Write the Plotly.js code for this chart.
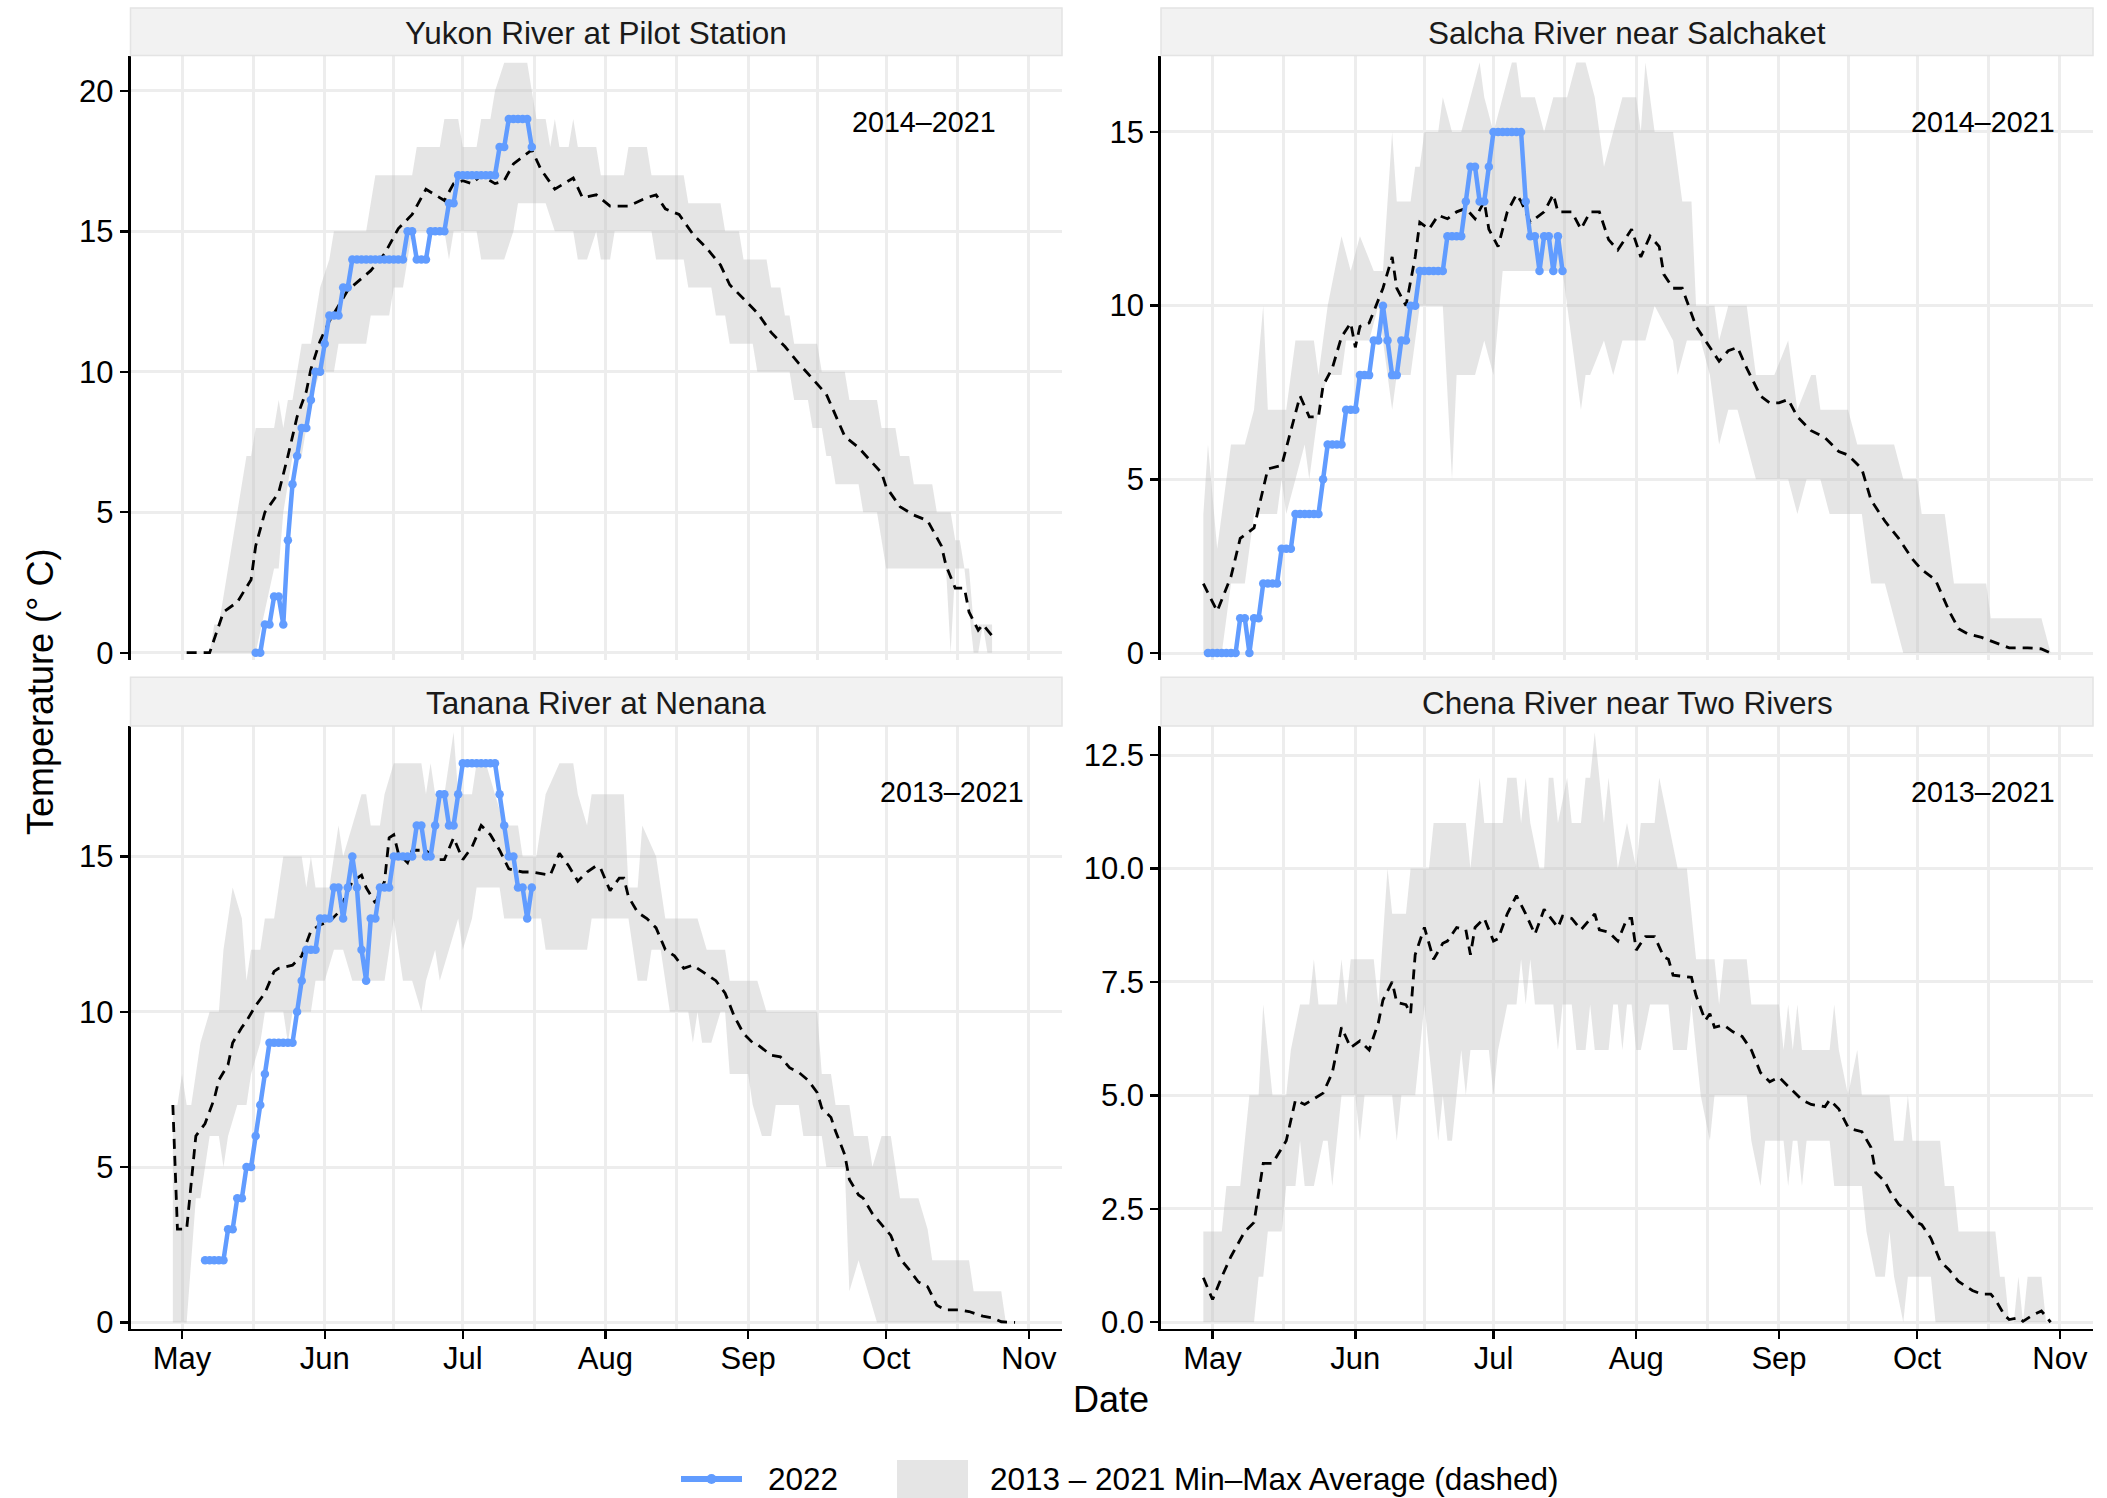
<!DOCTYPE html>
<html>
<head>
<meta charset="utf-8">
<script src="https://cdn.plot.ly/plotly-3.0.1.min.js"></script>
<style>
html,body{margin:0;padding:0;background:#fff;}
#chart{width:2107px;height:1498px;}
</style>
</head>
<body>
<div id="chart"></div>
<script>
// ---------------- DATA (day offsets from May 1; values in deg C) ----------------
const panelTitles = ["Yukon River at Pilot Station", "Salcha River near Salchaket", "Tanana River at Nenana", "Chena River near Two Rivers"];
const periodLabels = ["2014\u20132021", "2014\u20132021", "2013\u20132021", "2013\u20132021"];
const monthTickLabels = ["May", "Jun", "Jul", "Aug", "Sep", "Oct", "Nov"];
const monthTickDates = ["2022-05-01", "2022-06-01", "2022-07-01", "2022-08-01", "2022-09-01", "2022-10-01", "2022-11-01"];

// Yukon River at Pilot Station
const yukonMean = [[1,0],[6,0],[9,1.45],[12,1.8],[15,2.6],[16,3.8],[18,5.0],[21,5.7],[23,7.0],[25,8.4],[27,9.3],[28,10.1],[30,11.1],[32,11.8],[36,12.9],[41,13.6],[44,14.2],[47,15.1],[50,15.6],[52,16.2],[53,16.5],[57,16.1],[59,16.7],[61,16.8],[63,16.7],[65,17.0],[68,16.7],[70,16.8],[72,17.4],[76,17.9],[78,17.2],[81,16.5],[85,16.9],[87,16.2],[90,16.3],[93,15.9],[97,15.9],[101,16.2],[103,16.3],[105,15.8],[108,15.6],[111,14.9],[114,14.4],[117,13.8],[119,13.1],[122,12.6],[125,12.1],[128,11.4],[131,10.9],[134,10.3],[137,9.75],[140,9.2],[144,7.7],[147,7.3],[152,6.4],[153,5.9],[156,5.2],[159,4.9],[162,4.7],[165,3.8],[166,3.1],[168,2.3],[170,2.3],[171,1.45],[173,0.8],[174,1.0],[176,0.6]];
const yukonMax = [[1,0],[6,0],[7,1],[8,1],[14,7],[15,7],[16,8],[20,8],[21,9],[22,8],[23,9],[24,9],[25,10],[26,11],[28,11],[29,12],[30,13],[32,14],[33,15],[40,15],[41,16],[42,17],[50,17],[51,18],[56,18],[57,19],[60,19],[61,18],[64,18],[65,19],[67,19],[68,20],[70,21],[75,21],[76,20],[77,19],[79,19],[80,18],[81,19],[82,18],[84,18],[85,19],[86,18],[90,18],[91,17],[96,17],[97,18],[101,18],[102,17],[109,17],[110,16],[117,16],[118,15],[121,15],[122,14],[127,14],[128,13],[130,13],[131,12],[132,12],[133,11],[138,11],[139,10],[144,10],[145,9],[151,9],[152,8],[155,8],[156,7],[158,7],[159,6],[163,6],[164,5],[167,5],[168,4],[169,4],[170,3],[171,3],[172,1],[176,1]];
const yukonMin = [[1,0],[16,0],[20,3],[21,3],[22,5],[24,7],[26,7],[28,9],[30,10],[33,10],[34,11],[40,11],[41,12],[45,12],[46,13],[48,13],[49,14],[50,15],[57,15],[58,14],[59,15],[64,15],[65,14],[70,14],[72,15],[73,16],[79,16],[81,15],[85,15],[86,14],[88,14],[90,15],[91,14],[93,14],[94,15],[102,15],[103,14],[109,14],[110,13],[115,13],[116,12],[118,12],[119,11],[124,11],[125,10],[132,10],[133,9],[136,9],[137,8],[139,8],[140,7],[141,7],[142,6],[147,6],[148,5],[151,5],[152,4],[153,3],[166,3],[167,0],[168,3],[170,3],[172,0],[173,0],[174,1],[175,0],[176,0]];
const yukon2022Start = 16;
const yukon2022 = [0,0,1,1,2,2,1,4,6,7,8,8,9,10,10,11,12,12,12,13,13,14,14,14,14,14,14,14,14,14,14,14,14,15,15,14,14,14,15,15,15,15,16,16,17,17,17,17,17,17,17,17,17,18,18,19,19,19,19,19,18];

// Salcha River near Salchaket
const salchaMean = [[-2,2.0],[1,1.2],[4,2.2],[6,3.3],[9,3.6],[11,4.75],[12,5.3],[15,5.4],[16,5.9],[18,6.9],[19,7.4],[21,6.8],[23,6.8],[24,7.7],[26,8.2],[28,9.1],[30,9.5],[31,8.8],[32,9.4],[34,9.5],[37,10.5],[39,11.4],[40,10.5],[42,10.0],[44,11.4],[45,12.4],[47,12.2],[49,12.6],[51,12.5],[53,12.7],[55,12.8],[57,12.5],[59,13.0],[60,12.2],[62,11.7],[64,12.7],[66,13.2],[67,13.0],[69,12.4],[72,12.7],[74,13.2],[75,12.7],[78,12.7],[80,12.2],[82,12.7],[84,12.7],[86,11.9],[88,11.6],[90,12.0],[91,12.2],[93,11.4],[95,12.0],[97,11.7],[98,10.9],[100,10.5],[102,10.5],[105,9.4],[108,8.8],[110,8.4],[112,8.7],[114,8.8],[116,8.2],[119,7.4],[121,7.2],[123,7.2],[125,7.3],[127,6.8],[130,6.4],[133,6.2],[136,5.8],[138,5.7],[141,5.3],[143,4.4],[146,3.8],[149,3.3],[152,2.7],[154,2.4],[157,2.1],[160,1.2],[162,0.7],[164,0.55],[167,0.45],[170,0.3],[173,0.15],[177,0.15],[180,0.12],[182,0]];
const salchaMax = [[-2,4],[-1,6],[1,3],[4,6],[7,6],[9,7],[11,10],[12,7],[16,7],[18,9],[22,9],[23,8],[25,10],[28,12],[30,11],[32,12],[35,11],[37,11],[39,15],[40,13],[43,13],[44,14],[45,14],[46,15],[49,15],[50,16],[52,15],[54,15],[56,16],[58,17],[59,16],[61,15],[63,16],[65,17],[66,17],[67,16],[70,16],[72,15],[74,16],[77,16],[79,17],[81,17],[83,16],[85,14],[87,15],[89,16],[92,16],[93,15],[94,17],[96,15],[100,15],[102,13],[104,13],[105,10],[109,10],[110,9],[112,10],[116,10],[118,8],[122,8],[125,9],[127,7],[130,8],[131,8],[132,7],[138,7],[140,6],[148,6],[150,5],[153,5],[154,4],[159,4],[161,2],[168,2],[169,1],[180,1],[182,0]];
const salchaMin = [[-2,0],[2,0],[4,2],[7,2],[9,4],[14,4],[15,5],[16,4],[18,5],[20,6],[21,5],[22,6],[23,7],[25,8],[28,8],[29,9],[34,9],[36,10],[37,9],[39,7],[40,8],[43,8],[45,10],[50,10],[52,5],[53,8],[57,8],[59,9],[61,8],[63,11],[76,11],[78,9],[80,7],[81,8],[82,8],[85,9],[87,8],[89,9],[94,9],[96,10],[100,9],[101,8],[103,9],[106,9],[108,8],[110,6],[112,7],[114,7],[116,6],[118,5],[125,5],[127,4],[129,5],[132,5],[134,4],[141,4],[143,2],[146,2],[148,1],[150,0],[182,0]];
const salcha2022Start = -1;
const salcha2022 = [0,0,0,0,0,0,0,1,1,0,1,1,2,2,2,2,3,3,3,4,4,4,4,4,4,5,6,6,6,6,7,7,7,8,8,8,9,9,10,9,8,8,9,9,10,10,11,11,11,11,11,11,12,12,12,12,13,14,14,13,13,14,15,15,15,15,15,15,15,13,12,12,11,12,12,11,12,11];

// Tanana River at Nenana
const tananaMean = [[-2,7.0],[-1,3.0],[1,3.0],[3,6.0],[5,6.4],[7,7.2],[8,7.8],[10,8.3],[11,9.0],[13,9.5],[14,9.7],[16,10.2],[18,10.6],[20,11.3],[21,11.4],[24,11.5],[26,11.8],[28,12.6],[30,12.8],[32,12.9],[34,13.2],[37,14.2],[39,14.4],[40,14.0],[42,13.5],[44,14.2],[45,15.6],[46,15.7],[47,15.1],[49,14.8],[50,15.2],[53,15.2],[55,14.9],[57,14.9],[59,15.6],[61,14.9],[63,15.3],[65,16.0],[67,15.7],[69,15.2],[71,14.6],[74,14.5],[76,14.5],[80,14.4],[82,15.1],[84,14.7],[86,14.2],[88,14.5],[90,14.7],[91,14.6],[93,13.9],[95,14.3],[96,14.3],[97,13.7],[99,13.2],[101,13.0],[103,12.7],[105,12.0],[107,11.8],[109,11.4],[111,11.5],[114,11.2],[116,11.0],[118,10.6],[120,9.85],[122,9.3],[124,9.0],[125,8.95],[128,8.6],[130,8.55],[132,8.2],[134,8.05],[136,7.8],[138,7.4],[139,6.9],[141,6.6],[142,6.15],[144,5.4],[145,4.6],[147,4.1],[148,4.0],[150,3.5],[152,3.15],[154,2.8],[156,2.05],[158,1.7],[160,1.3],[162,1.15],[164,0.55],[166,0.4],[169,0.4],[171,0.35],[174,0.2],[176,0.15],[178,0.02],[181,0]];
const tananaMax = [[-2,7],[-1,7],[0,8],[1,7],[2,7],[4,9],[6,10],[8,10],[9,12],[11,14],[13,13],[14,11],[15,12],[17,12],[18,13],[20,13],[22,15],[26,15],[27,14],[28,15],[29,14],[32,14],[34,16],[35,15],[37,16],[39,17],[40,17],[41,16],[43,16],[44,17],[46,18],[52,18],[53,17],[54,18],[55,17],[57,17],[59,19],[60,17],[63,17],[64,18],[66,18],[68,17],[70,16],[73,16],[74,15],[77,15],[79,17],[82,18],[85,18],[86,17],[88,16],[89,17],[92,17],[96,17],[97,14],[99,14],[100,16],[103,15],[104,14],[105,13],[112,13],[114,12],[118,12],[119,11],[125,11],[127,10],[138,10],[139,8],[141,8],[142,7],[145,7],[146,6],[149,6],[150,5],[152,6],[154,6],[156,4],[160,4],[162,3],[163,2],[171,2],[172,1],[178,1],[179,0],[181,0]];
const tananaMin = [[-2,0],[1,0],[3,4],[4,4],[6,6],[8,6],[9,5],[10,6],[12,7],[14,7],[15,8],[17,9],[18,10],[22,10],[23,9],[24,10],[28,10],[29,11],[31,11],[33,12],[35,12],[37,11],[44,11],[45,12],[46,13],[48,11],[50,11],[52,10],[53,11],[55,12],[56,11],[58,12],[60,13],[61,12],[63,13],[64,14],[69,14],[70,13],[78,13],[79,12],[88,12],[89,13],[97,13],[99,11],[101,11],[102,12],[104,12],[106,10],[110,10],[111,9],[112,10],[113,9],[115,9],[117,10],[118,10],[119,8],[123,8],[124,7],[126,6],[128,6],[129,7],[134,7],[135,6],[139,6],[140,5],[144,5],[145,1],[147,2],[149,1],[151,0],[181,0]];
const tanana2022Start = 5;
const tanana2022 = [2,2,2,2,2,3,3,4,4,5,5,6,7,8,9,9,9,9,9,9,10,11,12,12,12,13,13,13,14,14,13,14,15,14,12,11,13,13,14,14,14,15,15,15,15,15,16,16,15,15,16,17,17,16,16,17,18,18,18,18,18,18,18,18,17,16,15,15,14,14,13,14];

// Chena River near Two Rivers
const chenaMean = [[-2,0.98],[0,0.5],[2,1.0],[4,1.45],[7,2.0],[9,2.2],[11,3.5],[13,3.5],[16,4.0],[18,4.9],[20,4.8],[24,5.05],[26,5.5],[28,6.5],[30,6.05],[32,6.2],[34,6.0],[36,6.6],[37,7.1],[39,7.5],[40,7.05],[42,7.0],[43,6.8],[44,8.1],[46,8.7],[48,8.0],[50,8.35],[51,8.4],[53,8.7],[55,8.65],[56,8.1],[57,8.7],[59,8.9],[61,8.4],[62,8.45],[64,9.0],[66,9.4],[68,9.0],[70,8.55],[72,9.1],[75,8.7],[76,8.95],[78,8.9],[80,8.65],[83,9.0],[84,8.65],[86,8.6],[88,8.4],[90,8.9],[91,8.9],[92,8.2],[94,8.5],[96,8.5],[98,8.05],[99,8.0],[100,7.65],[104,7.6],[105,7.2],[107,6.65],[108,6.8],[109,6.5],[111,6.55],[113,6.4],[115,6.3],[117,6.0],[119,5.5],[121,5.3],[123,5.4],[125,5.2],[128,4.9],[130,4.8],[133,4.75],[134,4.9],[136,4.7],[138,4.3],[139,4.25],[141,4.2],[143,3.85],[144,3.3],[146,3.1],[147,2.9],[149,2.6],[151,2.45],[153,2.2],[154,2.15],[156,1.85],[158,1.35],[160,1.15],[162,0.9],[165,0.7],[167,0.62],[169,0.62],[170,0.5],[172,0.15],[173,0.06],[175,0.1],[176,0.02],[178,0.15],[180,0.25],[182,0.0]];
const chenaMax = [[-2,2],[2,2],[3,3],[6,3],[8,5],[10,5],[11,7],[13,5],[16,5],[17,6],[19,7],[21,7],[22,8],[23,7],[27,7],[28,8],[29,7],[30,8],[35,8],[36,7],[38,10],[39,9],[42,9],[43,10],[47,10],[48,11],[55,11],[56,10],[58,12],[59,11],[63,11],[64,12],[66,12],[67,11],[68,12],[69,11],[71,10],[72,10],[73,12],[74,12],[75,11],[77,12],[78,11],[80,11],[81,12],[82,12],[83,13],[85,11],[86,12],[88,10],[90,11],[92,10],[93,11],[96,11],[97,12],[99,11],[101,10],[103,10],[105,8],[109,8],[110,7],[111,8],[116,8],[117,7],[123,7],[124,6],[125,7],[126,6],[127,7],[128,6],[134,6],[135,7],[136,6],[138,5],[140,6],[141,5],[147,5],[148,4],[150,4],[151,5],[152,4],[158,4],[159,3],[161,3],[162,2],[170,2],[171,1],[172,1],[173,0],[174,0],[175,1],[176,0],[177,1],[180,1],[181,0],[182,0]];
const chenaMin = [[-2,0],[9,0],[10,1],[11,1],[12,2],[15,2],[16,3],[18,3],[19,4],[20,3],[22,3],[24,4],[25,4],[26,3],[27,4],[28,5],[31,5],[32,4],[33,5],[39,5],[40,4],[41,5],[44,5],[45,6],[46,7],[47,6],[49,4],[50,5],[51,4],[52,4],[53,5],[54,6],[55,5],[56,6],[60,6],[61,5],[62,6],[64,7],[66,7],[67,8],[68,7],[69,8],[70,7],[74,7],[75,6],[76,7],[78,7],[79,6],[81,6],[82,7],[83,6],[86,6],[87,7],[88,7],[89,6],[90,7],[91,7],[92,6],[93,6],[95,7],[99,7],[100,6],[103,6],[104,7],[105,6],[106,5],[108,4],[109,5],[116,5],[117,4],[119,3],[120,4],[124,4],[125,3],[126,4],[127,4],[128,3],[129,4],[134,4],[135,3],[141,3],[142,2],[144,1],[146,1],[147,2],[148,1],[150,0],[151,1],[156,1],[157,0],[182,0]];

const yRanges = [[-0.26, 21.26], [-0.2, 17.2], [-0.2, 19.2], [-0.14, 13.14]];
const yTickVals = [[0,5,10,15,20],[0,5,10,15],[0,5,10,15],[0,2.5,5,7.5,10,12.5]];
const yTickText = [["0","5","10","15","20"],["0","5","10","15"],["0","5","10","15"],["0.0","2.5","5.0","7.5","10.0","12.5"]];

// ---------------- HELPERS ----------------
const W = 2107, H = 1498;
const BASE = Date.UTC(2022, 4, 1);
function dstr(d) {
  const t = new Date(BASE + d * 86400000);
  return t.toISOString().slice(0, 19).replace('T', ' ');
}
function tstr(ms) { return new Date(ms).toISOString().slice(0, 19).replace('T', ' '); }
const px = x => x / W;
const py = y => 1 - y / H;

const panels = [
  {mean: yukonMean, max: yukonMax, min: yukonMin, obs: yukon2022, obsStart: yukon2022Start},
  {mean: salchaMean, max: salchaMax, min: salchaMin, obs: salcha2022, obsStart: salcha2022Start},
  {mean: tananaMean, max: tananaMax, min: tananaMin, obs: tanana2022, obsStart: tanana2022Start},
  {mean: chenaMean, max: chenaMax, min: chenaMin, obs: null, obsStart: 0}
];

// pixel boxes of the panels
const colX = [[130.5, 1062], [1161, 2093]];
const rowY = [[55.5, 660], [726, 1328.6]];
const stripY = [[8, 55.5], [677.3, 726]];

const BLUE = '#619CFF';
const GRID = '#EDEDED';
const FONT = 'Liberation Sans, Arial, Helvetica, sans-serif';

const xRange = [dstr(-11.2), dstr(191.2)];
const monthMs = monthTickDates.map(s => Date.parse(s + 'T00:00:00Z'));
const minorVals = [];
for (let i = 0; i < monthMs.length - 1; i++) minorVals.push(tstr((monthMs[i] + monthMs[i + 1]) / 2));

const traces = [];
const layout = {
  width: W, height: H,
  margin: {l: 0, r: 0, t: 0, b: 0},
  paper_bgcolor: '#ffffff', plot_bgcolor: '#ffffff',
  showlegend: false,
  font: {family: FONT, color: '#000'},
  shapes: [], annotations: []
};

panels.forEach((p, i) => {
  const n = i + 1;
  const col = i % 2, row = Math.floor(i / 2);
  const xa = n === 1 ? 'x' : 'x' + n;
  const ya = n === 1 ? 'y' : 'y' + n;
  const bottom = row === 1;

  // ribbon polygon (max forward, min backward)
  const rx = p.max.map(v => dstr(v[0])).concat(p.min.slice().reverse().map(v => dstr(v[0])));
  const ry = p.max.map(v => v[1]).concat(p.min.slice().reverse().map(v => v[1]));
  traces.push({
    x: rx, y: ry, xaxis: xa, yaxis: ya, type: 'scatter', mode: 'lines',
    fill: 'toself', fillcolor: 'rgba(191,191,191,0.4)',
    line: {width: 0, color: 'rgba(0,0,0,0)'}, hoverinfo: 'skip'
  });
  // mean dashed
  traces.push({
    x: p.mean.map(v => dstr(v[0])), y: p.mean.map(v => v[1]),
    xaxis: xa, yaxis: ya, type: 'scatter', mode: 'lines',
    line: {color: '#000', width: 2.8, dash: '10px,7px'}, hoverinfo: 'skip'
  });
  // 2022 observations
  if (p.obs) {
    traces.push({
      x: p.obs.map((v, k) => dstr(p.obsStart + k)), y: p.obs,
      xaxis: xa, yaxis: ya, type: 'scatter', mode: 'lines+markers',
      line: {color: BLUE, width: 4.5}, marker: {color: BLUE, size: 8.5},
      hoverinfo: 'skip'
    });
  }

  const xKey = n === 1 ? 'xaxis' : 'xaxis' + n;
  const yKey = n === 1 ? 'yaxis' : 'yaxis' + n;
  layout[xKey] = {
    type: 'date', range: xRange, anchor: ya,
    domain: [px(colX[col][0]), px(colX[col][1])],
    tickmode: 'array', tickvals: monthTickDates, ticktext: monthTickLabels,
    showgrid: true, gridcolor: GRID, gridwidth: 3,
    minor: {tickmode: 'array', tickvals: minorVals, showgrid: true, gridcolor: GRID, gridwidth: 3, ticks: ''},
    zeroline: false,
    showline: bottom, linecolor: '#000', linewidth: 2.7,
    ticks: bottom ? 'outside' : '', ticklen: 8, tickwidth: 2.4, tickcolor: '#000',
    showticklabels: bottom, ticklabelstandoff: -8,
    tickfont: {family: FONT, size: 31, color: '#000'},
    fixedrange: true
  };
  layout[yKey] = {
    range: yRanges[i], anchor: xa,
    domain: [py(rowY[row][1]), py(rowY[row][0])],
    tickmode: 'array', tickvals: yTickVals[i], ticktext: yTickText[i],
    showgrid: true, gridcolor: GRID, gridwidth: 3,
    zeroline: false,
    showline: true, linecolor: '#000', linewidth: 2.7,
    ticks: 'outside', ticklen: 8, tickwidth: 2.4, tickcolor: '#000',
    tickfont: {family: FONT, size: 31, color: '#000'},
    fixedrange: true
  };

  // strip
  layout.shapes.push({
    type: 'rect', xref: 'paper', yref: 'paper',
    x0: px(colX[col][0]), x1: px(colX[col][1]),
    y0: py(stripY[row][1]), y1: py(stripY[row][0]),
    fillcolor: '#F2F2F2', line: {color: '#E4E4E4', width: 1.5}
  });
  layout.annotations.push({
    xref: 'paper', yref: 'paper', showarrow: false,
    x: px((colX[col][0] + colX[col][1]) / 2), y: py((stripY[row][0] + stripY[row][1]) / 2 + 1),
    xanchor: 'center', yanchor: 'middle',
    text: panelTitles[i], font: {family: FONT, size: 31.5, color: '#1a1a1a'}
  });
});

// period annotations
const periodPos = [[998, 122], [2057, 122], [1026, 792], [2057, 792]];
periodPos.forEach((pp, i) => {
  layout.annotations.push({
    xref: 'paper', yref: 'paper', showarrow: false,
    x: px(pp[0]), y: py(pp[1]), xanchor: 'right', yanchor: 'middle',
    text: periodLabels[i], font: {family: FONT, size: 28.7, color: '#000'}
  });
});

// axis titles
layout.annotations.push({
  xref: 'paper', yref: 'paper', showarrow: false,
  x: px(1111), y: py(1399), xanchor: 'center', yanchor: 'middle',
  text: 'Date', font: {family: FONT, size: 36, color: '#000'}
});
layout.annotations.push({
  xref: 'paper', yref: 'paper', showarrow: false,
  x: px(40), y: py(692), xanchor: 'center', yanchor: 'middle', textangle: -90,
  text: 'Temperature (\u00B0 C)', font: {family: FONT, size: 36, color: '#000'}
});

// legend
layout.shapes.push({
  type: 'line', xref: 'paper', yref: 'paper',
  x0: px(681), x1: px(742), y0: py(1479), y1: py(1479),
  line: {color: BLUE, width: 6}
});
layout.shapes.push({
  type: 'circle', xref: 'paper', yref: 'paper',
  x0: px(706.5), x1: px(716.5), y0: py(1484), y1: py(1474),
  fillcolor: BLUE, line: {color: BLUE, width: 0}
});
layout.annotations.push({
  xref: 'paper', yref: 'paper', showarrow: false,
  x: px(766), y: py(1479), xanchor: 'left', yanchor: 'middle',
  text: '2022', font: {family: FONT, size: 31.5, color: '#000'}
});
layout.shapes.push({
  type: 'rect', xref: 'paper', yref: 'paper',
  x0: px(897), x1: px(968), y0: py(1498), y1: py(1460),
  fillcolor: '#E5E5E5', line: {width: 0}
});
layout.annotations.push({
  xref: 'paper', yref: 'paper', showarrow: false,
  x: px(988), y: py(1479), xanchor: 'left', yanchor: 'middle',
  text: '2013 \u2013 2021 Min\u2013Max Average (dashed)', font: {family: FONT, size: 31.5, color: '#000'}
});

Plotly.newPlot('chart', traces, layout, {staticPlot: true, displayModeBar: false});
</script>
</body>
</html>
